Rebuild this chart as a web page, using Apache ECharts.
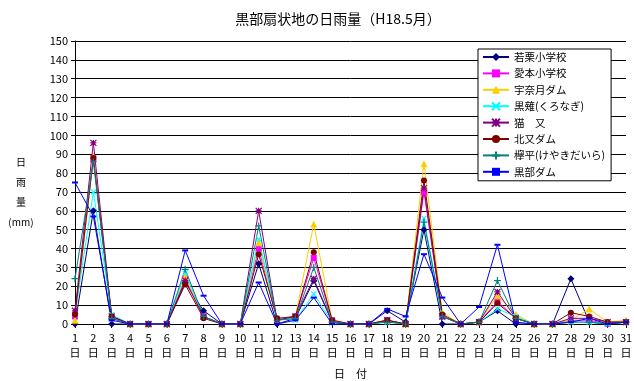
<!DOCTYPE html>
<html><head><meta charset="utf-8">
<script src="https://cdn.jsdelivr.net/npm/echarts@6/dist/echarts.min.js"></script>
<style>html,body{margin:0;padding:0;background:#fff}#c{width:634px;height:381px}</style>
</head><body><div id="c"></div>
<script>
const days = Array.from({length:31},(_,i)=>String(i+1));
const names = ['若栗小学校','愛本小学校','宇奈月ダム','黒薙(くろなぎ)','猫　又','北又ダム','欅平(けやきだいら)','黒部ダム'];
const wakakuri = [0,60,0,0,0,0,22,7,0,0,32,0,3,23,1,0,0,7,1,50,0,0,1,7,0,0,0,24,1,0,1];
const aimoto   = [4,88,3,0,0,0,24,4,0,0,40,2,4,35,2,0,0,2,0,70,4,0,1,12,3,0,0,2,2,0,1];
const unazuki  = [2,89,4,0,0,0,25,4,0,0,43,2,4,53,2,0,0,2,0,85,6,0,1,15,5,0,0,2,8,1,2];
const kuronagi = [5,70,5,0,0,0,27,4,0,0,45,3,2,16,1,0,0,1,0,56,4,0,1,8,4,0,0,1,1,0,1];
const nekomata = [7,96,4,0,0,0,23,4,0,0,60,2,4,24,1,0,0,2,0,72,4,0,1,17,3,0,0,3,3,1,1];
const kitamata = [5,88,4,0,0,0,21,3,0,0,37,3,4,38,2,0,0,2,0,76,5,0,1,11,3,0,0,6,4,1,1];
const keyaki   = [24,86,3,0,0,0,29,4,0,0,52,2,3,30,1,0,0,1,0,54,4,0,1,23,3,0,0,1,1,0,1];
const kurobe   = [75,57,2,0,0,0,39,15,0,0,22,0,2,14,0,0,0,8,4,37,14,0,9,42,1,0,0,1,3,0,1];
const seriesData = [wakakuri,aimoto,unazuki,kuronagi,nekomata,kitamata,keyaki,kurobe];
const colors = ['#000080','#FF00FF','#FFCC00','#00FFFF','#800080','#800000','#008080','#0000FF'];
const symbols = ['diamond','rect','triangle','path://M0,0L10,10M10,0L0,10','path://M0,0L10,10M10,0L0,10M5,0L5,10M0,5L10,5','circle','path://M5,0L5,10M0,5L10,5','rect'];
const sizes = [7,6,7,5,6,6,7,[6,2]];
const font = '"Noto Sans CJK JP", sans-serif';
const chart = echarts.init(document.getElementById('c'));
chart.setOption({
  animation:false,
  title:{text:'黒部扇状地の日雨量（H18.5月）',left:333,textAlign:'center',top:7,textStyle:{fontFamily:font,fontSize:14,fontWeight:'normal',color:'#000'}},
  grid:{left:75,right:8,top:41,bottom:57,outerBoundsMode:'none',containLabel:false},
  legend:{orient:'vertical',left:478,top:49,padding:[2,6,3,4],itemGap:4.4,itemWidth:26,itemHeight:10,
    borderColor:'#000',borderWidth:1,backgroundColor:'#fff',
    textStyle:{fontFamily:font,fontSize:10.5,color:'#000',lineHeight:12},data:names},
  xAxis:{type:'category',data:days,boundaryGap:false,
    name:'日　付',nameLocation:'middle',nameGap:44,nameTextStyle:{fontFamily:font,fontSize:11,color:'#000'},
    axisLine:{lineStyle:{color:'#000',width:1}},axisTick:{show:true,alignWithLabel:true,length:4,lineStyle:{color:'#000'}},
    axisLabel:{interval:0,fontFamily:font,fontSize:11,color:'#000',lineHeight:15,margin:6,formatter:v=>v+'\n日'}},
  yAxis:{type:'value',min:0,max:150,interval:10,
    name:' \n日\n雨\n量\n(mm)',nameLocation:'middle',nameGap:54,nameRotate:0,
    nameTextStyle:{fontFamily:font,fontSize:10,color:'#000',lineHeight:20,align:'center'},
    axisLine:{show:true,lineStyle:{color:'#000'}},axisTick:{show:true,length:4,lineStyle:{color:'#000'}},
    axisLabel:{fontFamily:font,fontSize:11,color:'#000',margin:7},
    splitLine:{lineStyle:{color:'#000',width:1}}},
  series: names.map((n,i)=>({
    name:n,type:'line',data:seriesData[i],symbol:symbols[i],symbolSize:sizes[i],
    showAllSymbol:true,
    lineStyle:{color:colors[i],width:1},
    itemStyle:{color:colors[i],borderColor:colors[i],borderWidth:(i==3||i==4||i==6)?1.2:0}
  }))
});
</script></body></html>
